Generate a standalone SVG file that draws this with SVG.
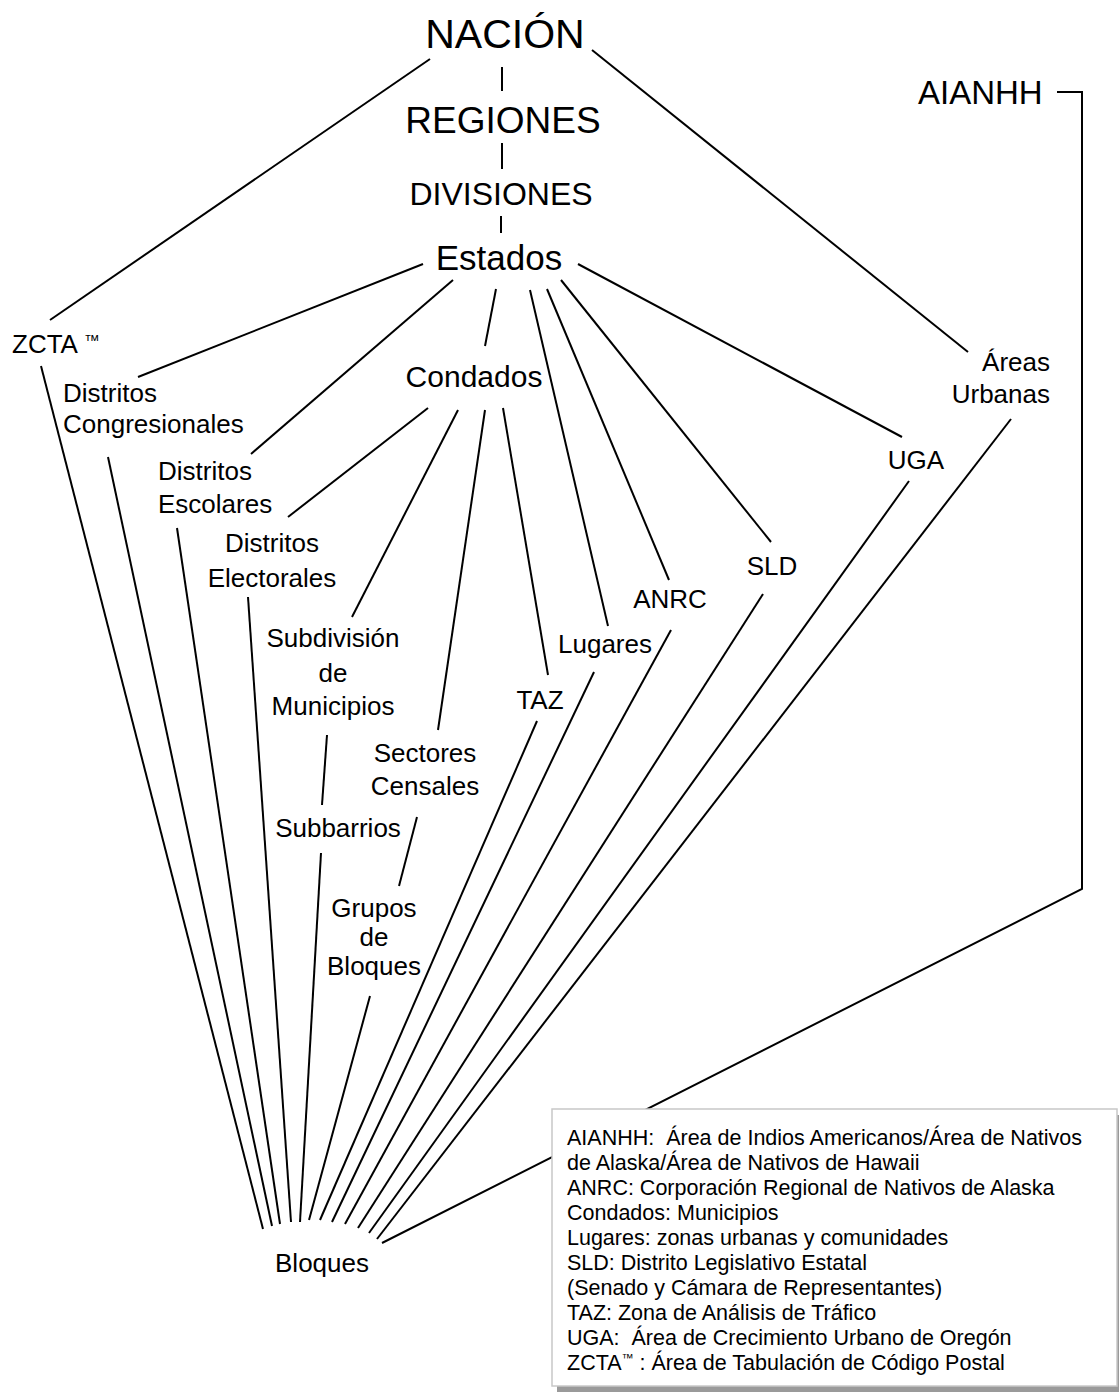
<svg xmlns="http://www.w3.org/2000/svg" width="1119" height="1395" viewBox="0 0 1119 1395">
<style>
text{font-family:"Liberation Sans",Arial,Helvetica,sans-serif;fill:#000}
.c{text-anchor:middle}
.r{text-anchor:end}
.l26{font-size:26px}
.leg{font-size:21.5px;white-space:pre}
#connectors line,#connectors polyline{stroke:#000;stroke-width:2;fill:none}
</style>
<rect width="1119" height="1395" fill="#fff"/>
<g id="connectors">
<line x1="502" y1="67" x2="502" y2="91"/>
<line x1="502" y1="143" x2="502" y2="169"/>
<line x1="501" y1="216" x2="501" y2="233"/>
<line x1="430" y1="59" x2="50" y2="320"/>
<line x1="592" y1="50" x2="968" y2="352"/>
<line x1="423" y1="264" x2="138" y2="377"/>
<line x1="453" y1="280" x2="251" y2="454"/>
<line x1="496" y1="289" x2="485" y2="346"/>
<line x1="530" y1="290" x2="608" y2="626"/>
<line x1="547" y1="289" x2="669" y2="580"/>
<line x1="561" y1="280" x2="771" y2="542"/>
<line x1="578" y1="264" x2="902" y2="437"/>
<line x1="428" y1="408" x2="288" y2="517"/>
<line x1="458" y1="410" x2="352" y2="617"/>
<line x1="485" y1="410" x2="438" y2="730"/>
<line x1="503" y1="408" x2="548" y2="675"/>
<line x1="327" y1="735" x2="322" y2="805"/>
<line x1="417" y1="817" x2="399" y2="886"/>
<line x1="41" y1="366" x2="263" y2="1229"/>
<line x1="108" y1="457" x2="272" y2="1226"/>
<line x1="177" y1="528" x2="280" y2="1224"/>
<line x1="248" y1="597" x2="291" y2="1222"/>
<line x1="321" y1="853" x2="300" y2="1222"/>
<line x1="370" y1="996" x2="309" y2="1220"/>
<line x1="537" y1="721" x2="320" y2="1220"/>
<line x1="594" y1="672" x2="332" y2="1222"/>
<line x1="671" y1="630" x2="345" y2="1224"/>
<line x1="763" y1="594" x2="358" y2="1228"/>
<line x1="909" y1="481" x2="369" y2="1233"/>
<line x1="1011" y1="419" x2="377" y2="1239"/>
<polyline points="1057,92 1082,92 1082,889 382,1243"/>
</g>
<g id="nacion"><text class="c" x="505" y="48" font-size="41">NACIÓN</text></g>
<g id="regiones"><text class="c" x="503" y="133" font-size="37">REGIONES</text></g>
<g id="divisiones"><text class="c" x="501" y="205" font-size="32">DIVISIONES</text></g>
<g id="estados"><text class="c" x="499" y="270" font-size="35">Estados</text></g>
<g id="aianhh"><text x="918" y="104" font-size="33">AIANHH</text></g>
<g id="zcta"><text class="l26" x="12" y="353">ZCTA <tspan font-size="16" dy="-7">™</tspan></text></g>
<g id="congresionales"><text class="l26" x="63" y="402">Distritos</text><text class="l26" x="63" y="433">Congresionales</text></g>
<g id="condados"><text class="c" x="474" y="387" font-size="30">Condados</text></g>
<g id="escolares"><text class="l26" x="158" y="480">Distritos</text><text class="l26" x="158" y="513">Escolares</text></g>
<g id="electorales"><text class="l26 c" x="272" y="552">Distritos</text><text class="l26 c" x="272" y="587">Electorales</text></g>
<g id="subdivision"><text class="l26 c" x="333" y="647">Subdivisión</text><text class="l26 c" x="333" y="682">de</text><text class="l26 c" x="333" y="715">Municipios</text></g>
<g id="sectores"><text class="l26 c" x="425" y="762">Sectores</text><text class="l26 c" x="425" y="795">Censales</text></g>
<g id="subbarrios"><text class="l26 c" x="338" y="837">Subbarrios</text></g>
<g id="grupos"><text class="l26 c" x="374" y="917">Grupos</text><text class="l26 c" x="374" y="946">de</text><text class="l26 c" x="374" y="975">Bloques</text></g>
<g id="taz"><text class="l26 c" x="540" y="709">TAZ</text></g>
<g id="lugares"><text class="l26 c" x="605" y="653">Lugares</text></g>
<g id="anrc"><text class="l26 c" x="670" y="608">ANRC</text></g>
<g id="sld"><text class="l26 c" x="772" y="575">SLD</text></g>
<g id="uga"><text class="l26 c" x="916" y="469">UGA</text></g>
<g id="areas"><text class="l26 r" x="1050" y="371">Áreas</text><text class="l26 r" x="1050" y="403">Urbanas</text></g>
<g id="bloques"><text class="l26 c" x="322" y="1272">Bloques</text></g>
<g id="legend">
<rect x="557" y="1115" width="562" height="277" fill="#9a9a9a"/>
<rect x="552" y="1109" width="565" height="277" fill="#fff" stroke="#c8c8c8" stroke-width="1.5"/>
<text class="leg" x="567" y="1145">AIANHH:  Área de Indios Americanos/Área de Nativos</text>
<text class="leg" x="567" y="1170">de Alaska/Área de Nativos de Hawaii</text>
<text class="leg" x="567" y="1195">ANRC: Corporación Regional de Nativos de Alaska</text>
<text class="leg" x="567" y="1220">Condados: Municipios</text>
<text class="leg" x="567" y="1245">Lugares: zonas urbanas y comunidades</text>
<text class="leg" x="567" y="1270">SLD: Distrito Legislativo Estatal</text>
<text class="leg" x="567" y="1295">(Senado y Cámara de Representantes)</text>
<text class="leg" x="567" y="1320">TAZ: Zona de Análisis de Tráfico</text>
<text class="leg" x="567" y="1345">UGA:  Área de Crecimiento Urbano de Oregón</text>
<text class="leg" x="567" y="1370">ZCTA<tspan font-size="12" dy="-8">™</tspan><tspan dy="8"> : Área de Tabulación de Código Postal</tspan></text>
</g>
</svg>
